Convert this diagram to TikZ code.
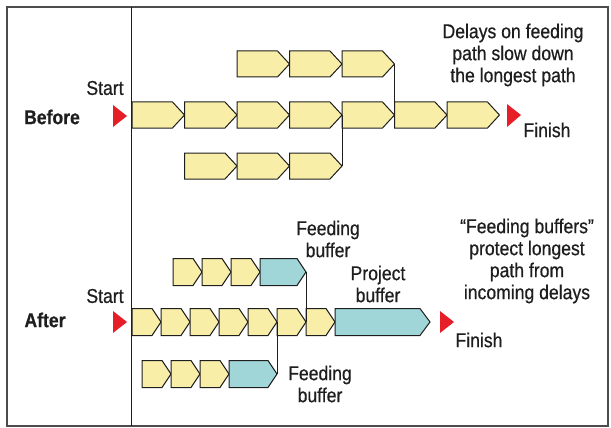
\documentclass[tikz,border=0pt]{standalone}
\usepackage{tikz}
\usepackage{fontspec}
\setmainfont[FakeStretch=0.88, FakeBold=0.6, BoldFont={Liberation Sans Bold}, BoldFeatures={FakeStretch=0.88}]{Liberation Sans}

\definecolor{taskyellow}{RGB}{248,238,168}
\definecolor{bufferblue}{RGB}{160,214,216}
\definecolor{flagred}{RGB}{230,30,40}
\definecolor{inkgray}{RGB}{30,30,30}

% one task: name, left x, centre y, width, point depth, colour
\newcommand{\taskbox}[6]{%
  \filldraw[task, fill=#6] ({#2},{#3-\halfh}) -- ({#2+#4-#5},{#3-\halfh})
     -- ({#2+#4},{#3}) -- ({#2+#4-#5},{#3+\halfh}) -- ({#2},{#3+\halfh}) -- cycle;
  \coordinate (#1) at ({#2+#4},{#3});
}

\begin{document}
\begin{tikzpicture}[x=1pt,y=-1pt,
    task/.style={draw=inkgray, line width=1pt, line join=miter},
    link/.style={draw=inkgray, line width=1pt},
    flag/.style={fill=flagred},
    lbl/.style={inner sep=0pt, align=center, text=inkgray,
                font=\fontsize{20}{22}\selectfont},
    side/.style={lbl, font=\fontsize{20}{22}\selectfont\bfseries}]

            \useasboundingbox (0,0) rectangle (611,428);
            \draw[gray!60!black, line width=1.2pt] (7,7) rectangle (608,426);
            \draw[inkgray, line width=1pt] (131,7) -- (131,426);

            % before
            \def\halfh{13}
            \foreach \i in {0,...,6}
            {
                \taskbox{bm\i}{132+52.5*\i}{115}{52.5}{12}{taskyellow}
            }
            \foreach \i in {2,3,4}
            {
                \taskbox{bt\i}{132+52.5*\i}{64}{52.5}{12}{taskyellow}
            }
            \foreach \i in {1,2,3}
            {
                \taskbox{bb\i}{132+52.5*\i}{166}{52.5}{12}{taskyellow}
            }
            \draw[link] (bt4) -- (bm4);
            \draw[link] (bb3) -- (bm3);

            \fill[flag] (113,105) -- (127,116) -- (113,127) -- cycle;
            \fill[flag] (507,104) -- (521,115) -- (507,127) -- cycle;

            \node[side] (before) at (52,117) {Before};
            \node[lbl] (start1) at (105,88) {Start};
            \node[lbl] (finish1) at (547,130) {Finish};
            \node[lbl] (delays) at (513,55) {Delays on feeding\\path slow down\\the longest path};

            % after
            \def\halfh{13.5}
            \foreach \i in {0,...,6}
            {
                \taskbox{am\i}{132+29*\i}{322}{29}{9}{taskyellow}
            }
            \taskbox{pbuf}{335}{322}{95}{10}{bufferblue}
            \foreach \i in {0,1,2}
            {
                \taskbox{at\i}{173+29*\i}{272}{29}{9}{taskyellow}
            }
            \taskbox{fbtop}{260}{272}{46}{9}{bufferblue}
            \foreach \i in {0,1,2}
            {
                \taskbox{ab\i}{142+29*\i}{374}{29}{9}{taskyellow}
            }
            \taskbox{fbbot}{229}{374}{48}{9}{bufferblue}
            \draw[link] (fbtop) -- (am5);
            \draw[link] (fbbot) -- (am4);

            \fill[flag] (113,311) -- (127,322) -- (113,333) -- cycle;
            \fill[flag] (440,311) -- (454,322) -- (440,333) -- cycle;

            \node[side] (after) at (45,320) {After};
            \node[lbl] (start2) at (105,296) {Start};
            \node[lbl] (finish2) at (479,340) {Finish};
            \node[lbl] (fbtoplbl) at (328,239) {Feeding\\buffer};
            \node[lbl] (pbuflbl) at (378,284) {Project\\buffer};
            \node[lbl] (fbbotlbl) at (320,384) {Feeding\\buffer};
            \node[lbl] (protect) at (527,261) {“Feeding buffers”\\protect longest\\path from\\incoming delays};
        \end{tikzpicture}
\end{document}
